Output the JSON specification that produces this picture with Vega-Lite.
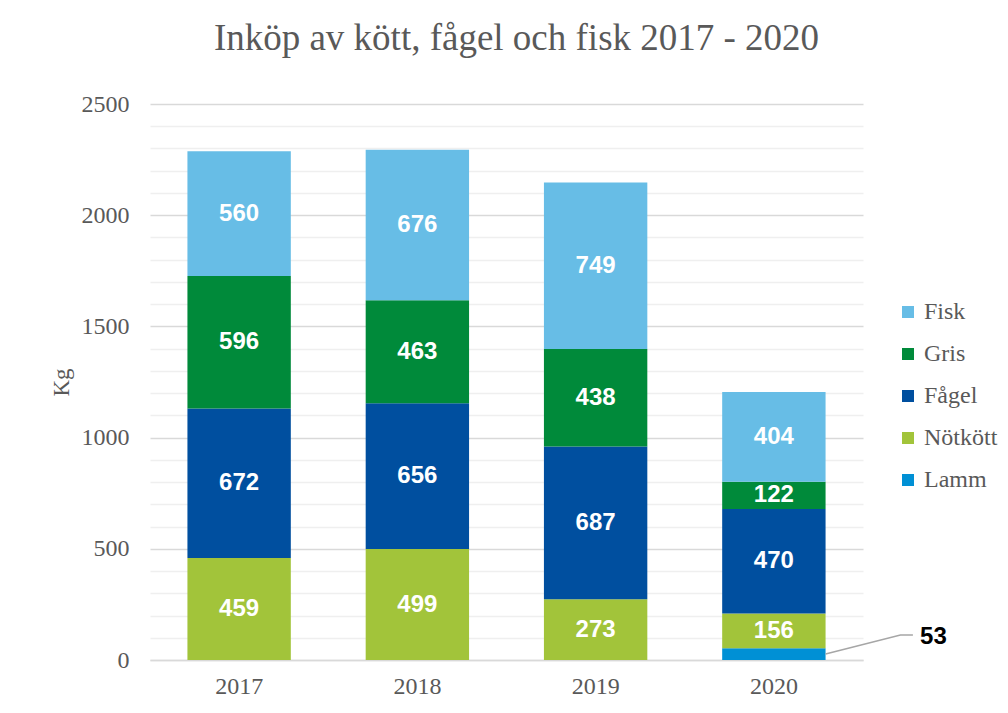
{
  "$schema": "https://vega.github.io/schema/vega-lite/v6.json",
  "autosize": "none",
  "width": 713,
  "height": 556,
  "padding": {"left": 150, "top": 104, "right": 145, "bottom": 53},
  "background": "white",
  "title": {
    "text": "Inköp av kött, fågel och fisk 2017 - 2020",
    "font": "Liberation Serif",
    "fontSize": 37,
    "fontWeight": "normal",
    "color": "#595959",
    "anchor": "middle",
    "offset": 34,
    "dx": 10
  },
  "config": {
    "view": {"stroke": null},
    "axis": {
      "labelFont": "Liberation Serif",
      "titleFont": "Liberation Serif",
      "labelColor": "#595959",
      "titleColor": "#595959"
    }
  },
  "datasets": {
    "meat": [
      {"year": "2017", "cat": "Nötkött", "kg": 459},
      {"year": "2017", "cat": "Fågel", "kg": 672},
      {"year": "2017", "cat": "Gris", "kg": 596},
      {"year": "2017", "cat": "Fisk", "kg": 560},
      {"year": "2018", "cat": "Nötkött", "kg": 499},
      {"year": "2018", "cat": "Fågel", "kg": 656},
      {"year": "2018", "cat": "Gris", "kg": 463},
      {"year": "2018", "cat": "Fisk", "kg": 676},
      {"year": "2019", "cat": "Nötkött", "kg": 273},
      {"year": "2019", "cat": "Fågel", "kg": 687},
      {"year": "2019", "cat": "Gris", "kg": 438},
      {"year": "2019", "cat": "Fisk", "kg": 749},
      {"year": "2020", "cat": "Lamm", "kg": 53},
      {"year": "2020", "cat": "Nötkött", "kg": 156},
      {"year": "2020", "cat": "Fågel", "kg": 470},
      {"year": "2020", "cat": "Gris", "kg": 122},
      {"year": "2020", "cat": "Fisk", "kg": 404}
    ],
    "leader": [
      {"ax": 3.79, "ay": 27},
      {"ax": 4.21, "ay": 112},
      {"ax": 4.28, "ay": 112}
    ],
    "callout": [
      {"ax": 4.32, "ay": 105, "label": "53"}
    ]
  },
  "layer": [
    {
      "data": {"name": "meat"},
      "transform": [
        {"calculate": "indexof(['Lamm','Nötkött','Fågel','Gris','Fisk'], datum.cat)", "as": "ord"},
        {"stack": "kg", "groupby": ["year"], "sort": [{"field": "ord"}], "as": ["y0", "y1"]},
        {"calculate": "(datum.y0 + datum.y1) / 2", "as": "ymid"}
      ],
      "encoding": {
        "x": {
          "field": "year", "type": "nominal",
          "scale": {"paddingInner": 0.42, "paddingOuter": 0.21},
          "axis": {
            "title": null, "labelAngle": 0, "labelFontSize": 24, "labelPadding": 14,
            "ticks": false, "domainColor": "#D9D9D9", "domainWidth": 1.5
          }
        }
      },
      "layer": [
        {
          "mark": {"type": "bar"},
          "encoding": {
            "y": {
              "field": "y0", "type": "quantitative",
              "scale": {"domain": [0, 2500], "nice": false},
              "axis": {
                "title": "Kg", "titleFontSize": 23, "titleFontWeight": "normal", "titlePadding": 8,
                "values": [0,100,200,300,400,500,600,700,800,900,1000,1100,1200,1300,1400,1500,1600,1700,1800,1900,2000,2100,2200,2300,2400,2500],
                "tickCount": 30,
                "labelExpr": "datum.value % 500 === 0 ? datum.label : ''",
                "labelOverlap": false,
                "labelFlush": false,
                "format": "d",
                "labelFontSize": 24, "labelPadding": 21,
                "ticks": false, "domain": false,
                "gridColor": {"condition": {"test": "datum.value % 500 === 0", "value": "#D9D9D9"}, "value": "#EFEFEF"},
                "gridWidth": 1.5
              }
            },
            "y2": {"field": "y1"},
            "color": {
              "field": "cat", "type": "nominal",
              "scale": {
                "domain": ["Fisk", "Gris", "Fågel", "Nötkött", "Lamm"],
                "range": ["#67BDE6", "#008A3A", "#004F9F", "#A2C43A", "#0090D5"]
              },
              "legend": {
                "title": null, "orient": "none", "legendX": 746, "legendY": 196,
                "symbolType": "square", "symbolSize": 144, "symbolStrokeWidth": 0,
                "labelFont": "Liberation Serif", "labelFontSize": 24, "labelColor": "#595959",
                "rowPadding": 18, "labelOffset": 4
              }
            }
          }
        },
        {
          "transform": [{"filter": "datum.cat !== 'Lamm'"}],
          "mark": {"type": "text", "font": "Liberation Sans", "fontWeight": "bold", "fontSize": 24, "color": "white", "baseline": "middle"},
          "encoding": {
            "y": {"field": "ymid", "type": "quantitative"},
            "text": {"field": "kg", "type": "quantitative"}
          }
        }
      ]
    },
    {
      "layer": [
        {
          "data": {"name": "leader"},
          "mark": {"type": "line", "color": "#A6A6A6", "strokeWidth": 1.5},
          "encoding": {
            "x": {"field": "ax", "type": "quantitative", "scale": {"domain": [0, 4], "nice": false, "zero": true}, "axis": null},
            "y": {"field": "ay", "type": "quantitative"}
          }
        },
        {
          "data": {"name": "callout"},
          "mark": {"type": "text", "font": "Liberation Sans", "fontWeight": "bold", "fontSize": 24, "color": "black", "align": "left", "baseline": "middle"},
          "encoding": {
            "x": {"field": "ax", "type": "quantitative", "scale": {"domain": [0, 4], "nice": false, "zero": true}, "axis": null},
            "y": {"field": "ay", "type": "quantitative"},
            "text": {"field": "label"}
          }
        }
      ]
    }
  ],
  "resolve": {"scale": {"x": "independent"}, "axis": {"x": "independent"}}
}
